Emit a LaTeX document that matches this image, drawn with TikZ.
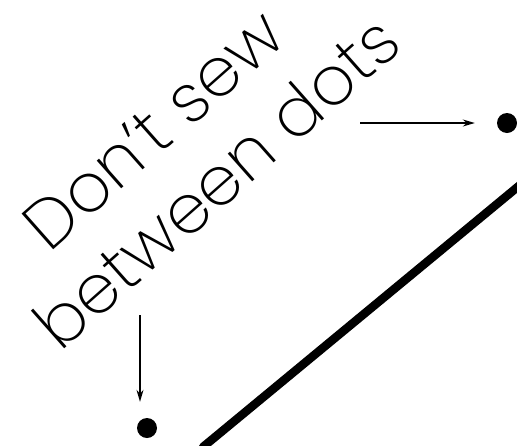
\documentclass[tikz,border=0pt]{standalone}
\usepackage{fontspec}
\newfontfamily\gfont{Poppins ExtraLight}
\usetikzlibrary{arrows.meta}
\begin{document}
\begin{tikzpicture}[x=1pt,y=-1pt,
  lbl/.style={inner sep=0pt, anchor=base west, rotate=41.5, font=\gfont\fontsize{68}{68}\selectfont},
  dotnode/.style={circle, fill=black, inner sep=0pt, minimum size=20pt},
  pointer/.style={line width=1.4pt, -{Stealth[length=12pt,width=7pt]}},
  seam/.style={line width=8.5pt, line cap=round}]
\useasboundingbox (0,0) rectangle (517,445);
\node[lbl] (l1) at (60,353) {\vbox{\baselineskip=82pt\lineskiplimit=-200pt\lineskip=0pt
  \hbox{\hspace*{58pt}Don’t sew}\hbox{between dots}}};
\node[dotnode] (d1) at (507,123) {};
\node[dotnode] (d2) at (147,428) {};
\coordinate (a1) at (360,123);
\coordinate (a2) at (140,315);
\draw[pointer, shorten >=22pt] (a1) -- (a1 -| d1.west);
\draw[pointer, shorten >=16pt] (a2) -- (a2 |- d2.north);
\coordinate (s1) at (203,447);
\coordinate (s2) at (520,185);
\draw[seam] (s1) -- (s2);
\end{tikzpicture}
\end{document}
